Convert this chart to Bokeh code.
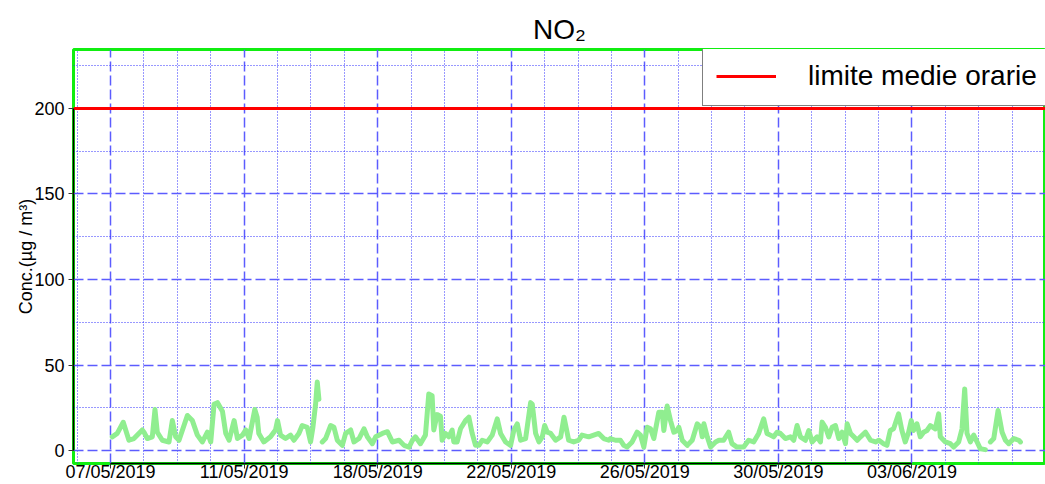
import math
from bokeh.plotting import figure
from bokeh.models import FixedTicker, Range1d, Legend, LegendItem
from bokeh.embed import file_html
from bokeh.resources import INLINE

TITLE = "NO₂"
Y_LABEL = "Conc.(µg / m³)"
LIMIT = 200
LIMIT_LABEL = "limite medie orarie"

TICK_DAYS = [0, 4, 8, 12, 16, 20, 24]
TICK_LABELS = ["07/05/2019", "11/05/2019", "18/05/2019", "22/05/2019",
               "26/05/2019", "30/05/2019", "03/06/2019"]
Y_TICKS = [0, 50, 100, 150, 200]
Y_MINOR = [25, 75, 125, 175, 225]

# days since first tick, NO2 hourly concentration (nan = gap)
day = [0.05, 0.2, 0.38, 0.55, 0.7, 0.95, 1.0, 1.1, 1.25, 1.33, 1.4, 1.55, 1.75, 1.85, 1.95,
       2.05, 2.3, 2.45, 2.6, 2.75, 2.9, 3.0, 3.1, 3.2, 3.35, 3.45, 3.55, 3.7, 3.8, 3.95,
       4.05, 4.15, 4.32, 4.39, 4.44, 4.59, 4.79, 4.94, 5.0, 5.09, 5.24, 5.39, 5.49, 5.64,
       5.74, 5.89, 5.99, 6.06, 6.14, 6.19, 6.24, 6.28, 6.34, 6.44, 6.59, 6.69, 6.79, 6.94,
       7.04, 7.19, 7.29, 7.44, 7.59, 7.69, 7.84, 7.94, 8.14, 8.29, 8.44, 8.64, 8.79, 8.94,
       9.04, 9.13, 9.28, 9.43, 9.53, 9.63, 9.68, 9.78, 9.88, 9.93, 10.03, 10.13, 10.23,
       10.28, 10.38, 10.48, 10.63, 10.73, 10.83, 10.93, 11.03, 11.13, 11.28, 11.43, 11.58,
       11.68, 11.83, 11.98, 12.08, 12.18, 12.28, 12.43, 12.58, 12.63, 12.73, 12.83, 12.93,
       13.0, 13.08, 13.18, 13.33, 13.48, 13.58, 13.72, 13.87, 14.02, 14.12, 14.32, 14.47,
       14.62, 14.77, 14.92, 14.97, 15.12, 15.27, 15.37, 15.47, 15.62, 15.77, 15.87, 15.97,
       16.07, 16.17, 16.27, 16.42, 16.52, 16.57, 16.67, 16.77, 16.87, 16.97, 17.02, 17.12,
       17.27, 17.42, 17.57, 17.67, 17.72, 17.77, 17.87, 17.97, 18.12, 18.22, 18.36, 18.51,
       18.61, 18.76, 18.96, 19.11, 19.26, 19.41, 19.56, 19.66, 19.76, 19.86, 19.96, 20.06,
       20.21, 20.36, 20.46, 20.56, 20.66, 20.81, 20.91, 21.01, 21.16, 21.26, 21.31, 21.41,
       21.51, 21.61, 21.71, 21.81, 21.91, 22.01, 22.06, 22.16, 22.26, 22.36, 22.46, 22.61,
       22.76, 22.91, 23.01, 23.15, 23.25, 23.35, 23.45, 23.6, 23.7, 23.8, 23.9, 23.98,
       24.05, 24.15, 24.25, 24.35, 24.45, 24.55, 24.7, 24.8, 24.85, 25.0, 25.15, 25.25,
       25.4, 25.5, 25.58, 25.65, 25.75, 25.85, 25.95, 26.05, 26.2, 26.28, 26.35, 26.45,
       26.58, 26.7, 26.8, 26.9, 27.05, 27.2, 27.25]
no2 = [8, 10, 16.5, 6, 7, 12, 10.7, 7, 8, 24, 10.7, 6, 5, 17.5, 8,
       6, 20.5, 17.5, 9, 5, 10.7, 5, 27, 28, 23, 10, 6, 17.5, 7, 9,
       12, 7, 24, 19.5, 10, 5, 8, 12, 17.5, 9, 7, 9, 6, 10,
       14.6, 13.6, 5, 13.6, 27, 40, 30, math.nan, 5, 7, 14.6, 13.6, 6, 3,
       10, 12, 5, 7, 12.7, 8, 4, 8, 10, 11, 5, 6, 3, 2,
       6, 8, 4, 9, 33, 32, 12, 21, 20, 6, 10, 8, 12,
       5, 5, 12.7, 17.5, 19.5, 10, 3, 3, 6, 5, 9, 18.5,
       10, 5, 3, 12, 15.6, 6, 7, 28, 27, 10, 5, 8,
       14.6, 10.7, 10, 6, 8, 19.5, 6, 5, 6, 9, 8, 9,
       10, 7, 6, 7, 6, 6, 3, 2, 5, 10.7, 9, 2,
       13.6, 12.7, 7, 22.4, 22.4, 11.7, 26, 17.5, 10.7, 11.7, 13.6, 6,
       3, 6, 15.6, 13.6, 8, 15.6, 8, 2, 5, 6, 6, 10.7,
       4, 2, 2, 6, 5, 10, 18.5, 10, 9, 8, 10.7, 10,
       7, 8, 6, 14.6, 8, 6, 11.7, 5, 8, 5, 16.6, 13.6,
       8, 13.6, 14.6, 7, 10.7, 4, 15.6, 10, 8, 6, 8, 10.7,
       6, 5, 6, 4, 3, 11.7, 12.7, 21.4, 11.7, 5, 10.7, 17.5,
       11.7, 15.6, 8, 10.7, 11.7, 14.6, 12.7, 21.4, 8, 5, 4, 2,
       5, 12.7, 36, 10, 5, 9, 5, 1, 0.5, math.nan, 5, 7,
       23.4, 10.7, 6, 4, 7, 6, 5]

FONT = "Liberation Sans"

p = figure(width=1045, height=484, output_backend="svg", toolbar_location=None,
           x_range=Range1d(-1.11, 28.0), y_range=Range1d(-7.6, 234.5),
           min_border_left=73, min_border_right=0, min_border_top=49, min_border_bottom=17)

p.title.text = TITLE
p.title.align = "center"
p.title.text_font = FONT
p.title.text_font_size = "28px"
p.title.text_font_style = "normal"
p.title.text_color = "black"

p.outline_line_color = "#11ee11"
p.outline_line_width = 3
p.background_fill_color = "white"
p.border_fill_color = "white"

# axes
p.xaxis.ticker = FixedTicker(ticks=TICK_DAYS,
                             minor_ticks=[d for d in range(-1, 29) if d not in TICK_DAYS])
p.xaxis.major_label_overrides = {d: lab for d, lab in zip(TICK_DAYS, TICK_LABELS)}
p.yaxis.ticker = FixedTicker(ticks=Y_TICKS, minor_ticks=Y_MINOR)
p.xaxis.bounds = (TICK_DAYS[0], TICK_DAYS[-1])
p.yaxis.bounds = (Y_TICKS[0], Y_TICKS[-1])

for ax in (p.xaxis, p.yaxis):
    ax.axis_line_color = "black"
    ax.axis_line_width = 1.5
    ax.major_tick_in = 0
    ax.major_tick_out = 5
    ax.major_tick_line_color = "#333333"
    ax.minor_tick_out = 0
    ax.minor_tick_in = 0
    ax.major_label_text_font = FONT
    ax.major_label_text_font_size = "18px"
    ax.major_label_text_color = "black"

p.xaxis.major_label_standoff = -7
p.xaxis.major_label_text_line_height = 1.0
p.yaxis.major_label_standoff = 4
p.yaxis.axis_label = Y_LABEL
p.yaxis.axis_label_text_font = FONT
p.yaxis.axis_label_text_font_size = "18px"
p.yaxis.axis_label_text_font_style = "normal"
p.yaxis.axis_label_text_color = "black"
p.yaxis.axis_label_standoff = -5

# grids
p.xgrid.grid_line_color = "#5c5cff"
p.ygrid.grid_line_color = "#5c5cff"
p.xgrid.grid_line_alpha = 1
p.ygrid.grid_line_alpha = 1
p.xgrid.grid_line_width = 1.5
p.ygrid.grid_line_width = 1.5
p.xgrid.grid_line_dash = "10 4"
p.ygrid.grid_line_dash = "10 4"
p.xgrid.minor_grid_line_color = "#3030ff"
p.ygrid.minor_grid_line_color = "#3030ff"
p.xgrid.minor_grid_line_alpha = 1
p.ygrid.minor_grid_line_alpha = 1
p.xgrid.minor_grid_line_width = 1
p.ygrid.minor_grid_line_width = 1
p.xgrid.minor_grid_line_dash = "1 2"
p.ygrid.minor_grid_line_dash = "1 2"

# data
p.line(day, no2, line_color="#90ee90", line_width=5, line_join="round", line_cap="round")

# limit line
limit_r = p.line([p.x_range.start, p.x_range.end], [LIMIT, LIMIT],
                 line_color="red", line_width=3)

legend = Legend(items=[LegendItem(label=LIMIT_LABEL, renderers=[limit_r])],
                location=(629, 357), orientation="vertical",
                glyph_width=60, glyph_height=20, label_standoff=32,
                padding=13, spacing=0, margin=0, label_height=32,
                label_text_font=FONT, label_text_font_size="28px",
                label_text_color="black",
                border_line_color="black", border_line_width=1,
                background_fill_color="white", background_fill_alpha=1)
p.add_layout(legend)

open("out.html", "w").write(file_html(p, INLINE))
